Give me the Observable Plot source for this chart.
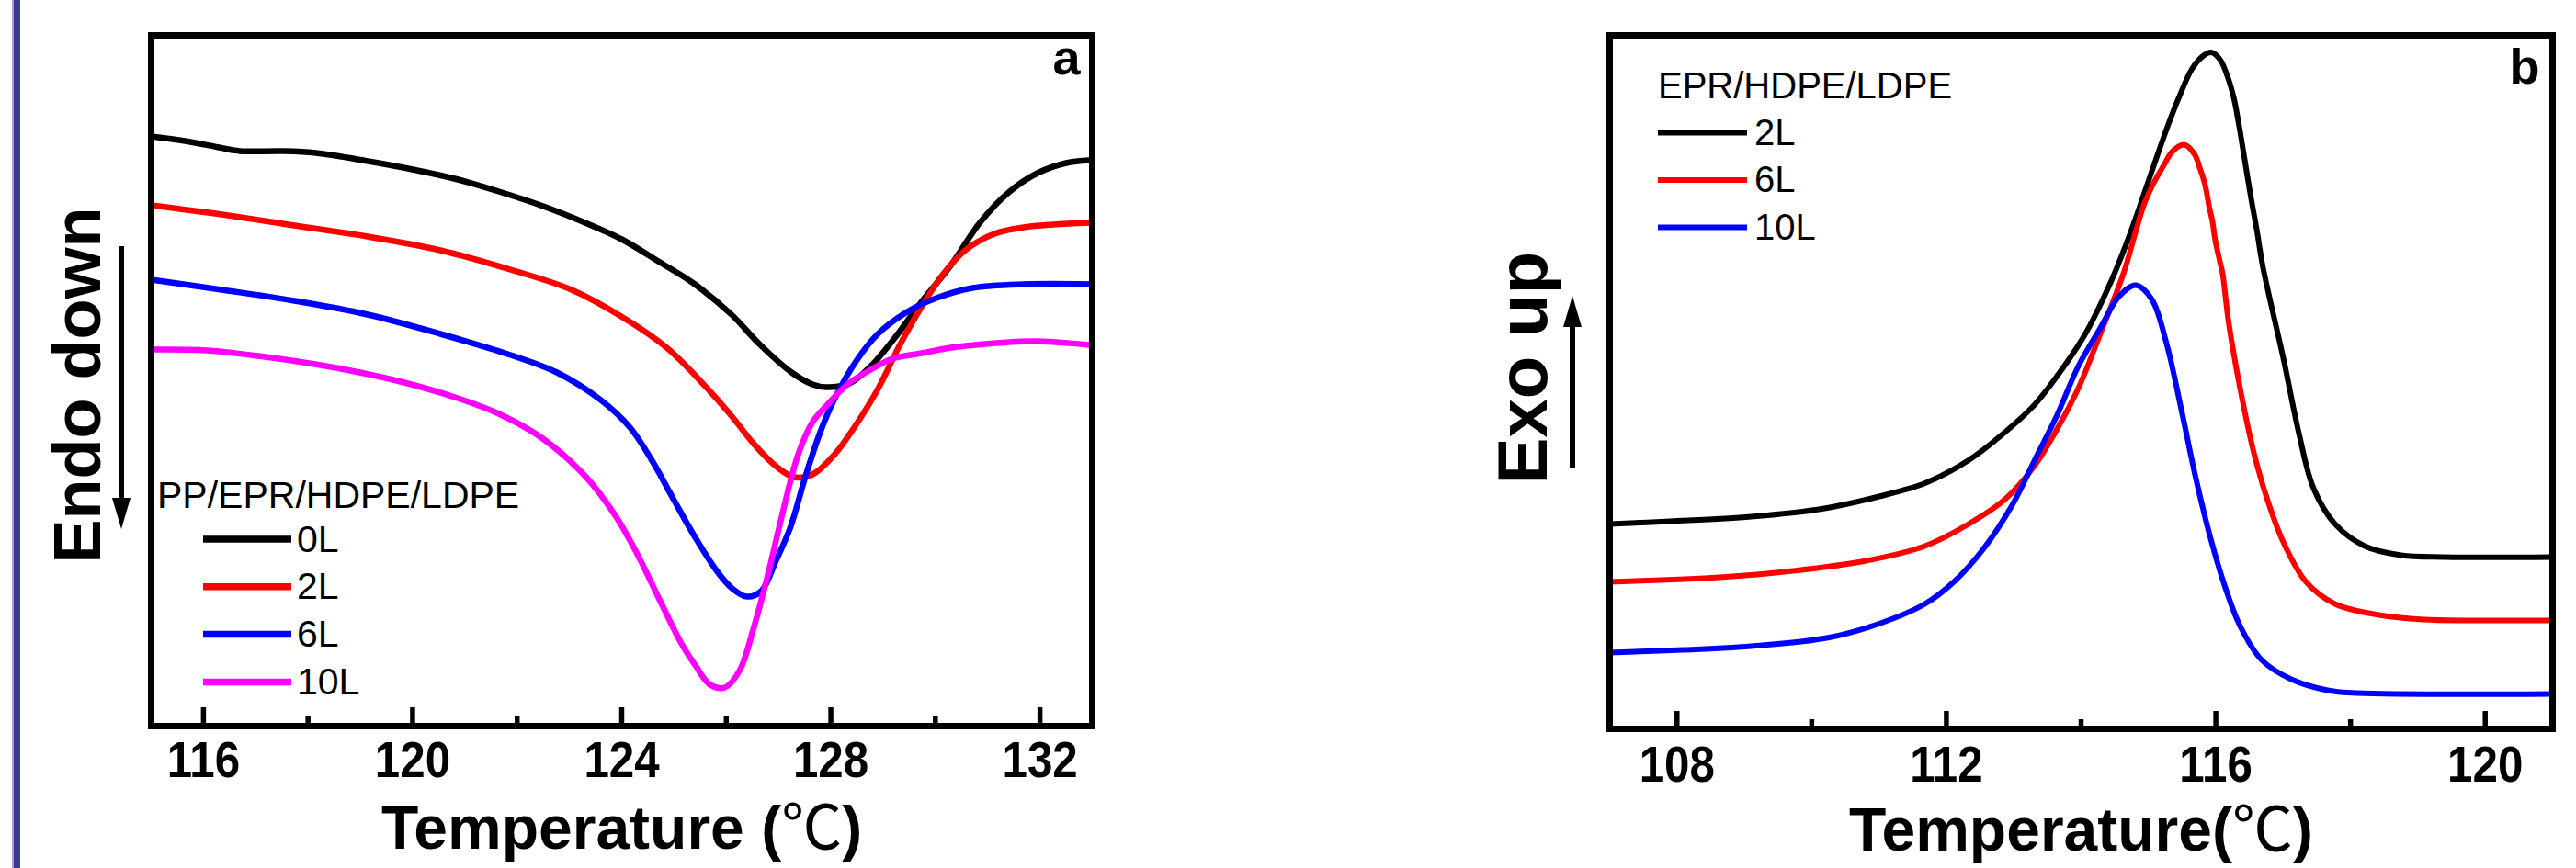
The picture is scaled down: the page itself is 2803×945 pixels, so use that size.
<!DOCTYPE html>
<html><head><meta charset="utf-8">
<script src="https://cdn.jsdelivr.net/npm/d3@7"></script>
<script src="https://cdn.jsdelivr.net/npm/@observablehq/plot@0.6"></script>
<style>
html,body{margin:0;padding:0;background:#fff;}
#page{position:relative;width:2803px;height:945px;overflow:hidden;background:#fff;}
#bar{position:absolute;left:13px;top:0;width:7px;height:945px;background:#3a3a94;border-left:2px solid #a3a3d2;z-index:2;}
#pa{position:absolute;left:0;top:0;}
#pb{position:absolute;left:1540px;top:0;}
</style></head><body>
<div id="page"><div id="bar"></div><div id="pa"></div><div id="pb"></div></div>
<script>
const FONT = "'Liberation Sans', Arial, Helvetica, sans-serif";

// ---------- Panel a : melting (Endo down) ----------
const namesA = ["0L", "2L", "6L", "10L"];
const colorsA = ["#000000", "#ff0000", "#0000ff", "#ff00ff"];
const legendTitleA = "PP/EPR/HDPE/LDPE";
const ticksA = [116, 120, 124, 128, 132];
const minorTicksA = [118, 122, 126, 130];
const xLabelA = "Temperature (℃)";
const yLabelA = "Endo down";
const tagA = "a";

const a0L = [[115.0,64.2],[115.65,63.7],[116.3,63.0],[116.7,62.6],[117.5,62.6],[118.15,62.4],[119.15,61.5],[120.0,60.6],[120.8,59.6],[121.65,58.2],[122.5,56.6],[123.3,54.8],[124.0,53.0],[124.7,50.6],[125.4,48.1],[126.1,44.8],[126.65,41.5],[127.25,38.5],[127.65,37.2],[127.9,36.9],[128.35,37.3],[128.75,39.1],[129.2,42.1],[129.75,46.3],[130.3,50.2],[130.85,54.8],[131.4,58.1],[131.95,60.2],[132.5,61.3],[132.95,61.6]];
const a2L = [[115.0,56.7],[116.35,55.7],[117.74,54.5],[119.14,53.3],[120.53,51.8],[121.93,49.6],[123.04,47.5],[124.02,44.5],[124.86,41.2],[125.55,37.3],[126.11,33.7],[126.53,30.7],[126.95,28.3],[127.3,27.1],[127.65,27.4],[128.06,29.5],[128.48,32.8],[128.9,36.7],[129.32,41.5],[129.74,45.7],[130.16,49.3],[130.57,51.8],[131.13,53.6],[131.69,54.3],[132.25,54.6],[132.95,54.8]];
const a6L = [[115.0,48.6],[116.35,47.5],[117.74,46.3],[119.14,44.8],[120.53,42.7],[121.93,40.3],[122.76,38.5],[123.6,35.5],[124.16,32.5],[124.58,28.9],[124.99,24.7],[125.41,20.5],[125.83,16.8],[126.11,15.0],[126.39,14.1],[126.67,14.7],[126.95,18.0],[127.23,21.7],[127.51,27.1],[127.79,31.9],[128.06,35.5],[128.48,39.7],[128.9,42.7],[129.46,45.1],[130.02,46.6],[130.71,47.7],[131.69,48.1],[132.95,48.1]];
const a10L = [[115.0,41.0],[116.07,40.9],[117.05,40.3],[118.44,39.1],[119.7,37.6],[120.81,35.8],[121.65,34.0],[122.49,31.3],[123.32,27.1],[123.88,22.9],[124.3,18.7],[124.72,13.8],[125.14,9.0],[125.41,6.6],[125.69,4.5],[125.97,4.2],[126.25,6.0],[126.53,10.8],[126.81,16.8],[127.09,23.5],[127.37,29.5],[127.65,33.1],[127.92,34.9],[128.34,37.3],[128.76,38.8],[129.18,40.0],[129.74,40.6],[130.3,41.2],[131.41,41.8],[131.97,41.9],[132.95,41.5]];

// ---------- Panel b : crystallization (Exo up) ----------
const namesB = ["2L", "6L", "10L"];
const colorsB = ["#000000", "#ff0000", "#0000ff"];
const legendTitleB = "EPR/HDPE/LDPE";
const ticksB = [108, 112, 116, 120];
const minorTicksB = [110, 114, 118];
const xLabelB = "Temperature(℃)";
const yLabelB = "Exo up";
const tagB = "b";

const b2L = [[107.0,22.3],[107.9,22.6],[109.1,23.1],[110.15,23.95],[111.0,25.3],[111.7,26.8],[112.33,29.25],[112.87,32.3],[113.31,35.3],[113.75,39.5],[114.07,43.1],[114.45,48.8],[114.66,52.6],[114.81,55.6],[114.97,59.0],[115.13,62.4],[115.29,65.7],[115.45,68.7],[115.65,71.9],[115.81,73.25],[115.93,73.65],[116.06,72.9],[116.18,70.9],[116.27,68.6],[116.34,65.9],[116.43,61.9],[116.52,57.9],[116.61,54.25],[116.7,50.25],[117.01,40.1],[117.23,32.3],[117.45,26.2],[117.77,22.3],[118.21,19.9],[118.75,18.9],[119.4,18.7],[121.0,18.7]];
const b6L = [[107.0,16.0],[108.63,16.5],[109.72,17.2],[110.81,18.3],[111.68,19.9],[112.33,22.3],[112.87,25.0],[113.31,28.65],[113.64,32.6],[113.96,37.1],[114.29,43.1],[114.63,49.6],[114.79,53.6],[114.93,57.0],[115.09,59.6],[115.22,61.25],[115.36,62.9],[115.53,63.6],[115.68,62.6],[115.77,60.9],[115.84,59.25],[115.9,56.9],[115.95,55.25],[115.99,53.25],[116.06,50.9],[116.1,49.6],[116.19,44.3],[116.36,37.1],[116.57,29.9],[116.79,24.4],[117.01,20.2],[117.34,16.0],[117.77,13.6],[118.42,12.4],[119.08,11.9],[119.8,11.8],[121.0,11.8]];
const b10L = [[107.0,8.3],[108.09,8.6],[109.18,9.05],[110.26,9.95],[111.02,11.5],[111.68,13.6],[112.11,16.0],[112.55,19.6],[112.98,24.4],[113.31,29.25],[113.64,34.1],[113.96,39.5],[114.29,43.7],[114.56,47.05],[114.81,48.3],[115.05,46.75],[115.27,41.9],[115.49,34.7],[115.7,27.4],[115.92,20.8],[116.14,15.4],[116.36,11.2],[116.68,7.5],[117.12,5.4],[117.66,4.2],[118.1,3.9],[121.0,3.8]];

function panel(cfg) {
  const rows = cfg.series.flatMap((s, i) => s.map(([t, v]) => ({t, v, k: cfg.names[i]})));
  return Plot.plot({
    width: cfg.width, height: 945,
    marginLeft: cfg.mL, marginRight: cfg.mR, marginTop: cfg.mT, marginBottom: cfg.mB,
    style: {fontFamily: FONT, background: "transparent", color: "black", overflow: "visible"},
    x: {domain: cfg.xDomain, label: null},
    y: {domain: cfg.yDomain, axis: null},
    color: {domain: cfg.names, range: cfg.colors},
    marks: [
      Plot.line(rows, {x: "t", y: "v", z: "k", stroke: "k", strokeWidth: cfg.lw, curve: "catmull-rom", strokeLinejoin: "round"}),
      Plot.axisX(cfg.minors, {tickSize: -cfg.minorLen, strokeWidth: 5.5, tickFormat: () => "", label: null}),
      Plot.axisX(cfg.majors, {tickSize: -cfg.majorLen, strokeWidth: 5.5, tickFormat: () => "", label: null}),
      Plot.axisX(cfg.majors, {tickSize: 0, tickPadding: cfg.tickPad, fontSize: 56, fontWeight: "bold", label: null, tickFormat: d => String(d)}),
      Plot.frame({stroke: "black", strokeWidth: 7}),
      Plot.text([cfg.xLabel], {text: d => d, frameAnchor: "bottom", textAnchor: "middle", lineAnchor: "top", dy: cfg.xLabelDy, fontSize: 66, fontWeight: "bold"}),
      Plot.text([cfg.yLabel], {text: d => d, frameAnchor: "left", textAnchor: "middle", rotate: -90, lineAnchor: "middle", dx: cfg.yLabelDx, dy: cfg.yLabelDy, fontSize: cfg.yLabelSize, fontWeight: "bold", ariaLabel: "ylabel"}),
      Plot.text([cfg.tag], {text: d => d, frameAnchor: "top-right", textAnchor: "end", lineAnchor: "top", dx: cfg.tagDx, dy: cfg.tagDy, fontSize: 54, fontWeight: "bold"})
    ]
  });
}

// horizontally condense a text element around its own anchor point
function squeeze(el, s) {
  const x = parseFloat(el.getAttribute("x")) || 0;
  const t = el.getAttribute("transform") || "";
  el.setAttribute("transform", `${t} translate(${x},0) scale(${s},1) translate(${-x},0)`);
}

function post(chart, cfg) {
  const ns = "http://www.w3.org/2000/svg";
  const svg = d3.select(chart);
  // condensed tick labels
  svg.selectAll("text").each(function() {
    if (/^\d+$/.test(this.textContent.trim())) squeeze(this, 0.88);
  });
  // condensed y label
  svg.selectAll('g[aria-label="ylabel"] text').each(function() {
    const L = this.getComputedTextLength();
    if (L > 0) squeeze(this, cfg.yLabelLen / L);
  });
  // degree Celsius glyph in a CJK font, light weight
  svg.selectAll("text, tspan").each(function() {
    if (this.children.length === 0 && this.textContent.includes("℃")) {
      const parts = this.textContent.split("℃");
      this.textContent = "";
      parts.forEach((p, i) => {
        if (i > 0) {
          const ts = document.createElementNS(ns, "tspan");
          ts.setAttribute("font-family", "'Noto Sans CJK SC', 'DejaVu Sans', sans-serif");
          ts.setAttribute("font-weight", "normal");
          ts.textContent = "℃";
          this.appendChild(ts);
        }
        if (p) this.appendChild(document.createTextNode(p));
      });
    }
  });
  // arrow next to y label
  const x = chart.scale("x");
  const ax = x.range[0] + cfg.arrow.dx;
  const [yTail, yTip] = cfg.arrow.y;
  const dir = Math.sign(yTip - yTail);
  const hl = 34, hw = 10;
  svg.append("line").attr("x1", ax).attr("x2", ax).attr("y1", yTail).attr("y2", yTip - dir * hl)
    .attr("stroke", "black").attr("stroke-width", 6);
  svg.append("path").attr("d", `M${ax - hw},${yTip - dir * hl}L${ax + hw},${yTip - dir * hl}L${ax},${yTip}Z`).attr("fill", "black");
  // legend
  const L = cfg.legend;
  const g = svg.append("g").attr("font-family", FONT).attr("fill", "black").attr("text-anchor", "start");
  g.append("text").attr("x", L.x).attr("y", L.titleY).attr("font-size", L.fs).text(cfg.legendTitle);
  cfg.names.forEach((n, i) => {
    const y = L.y0 + i * L.step;
    g.append("line").attr("x1", L.lx1).attr("x2", L.lx2).attr("y1", y).attr("y2", y)
      .attr("stroke", cfg.colors[i]).attr("stroke-width", L.lw);
    g.append("text").attr("x", L.tx).attr("y", y + L.base).attr("font-size", L.fs).text(n);
  });
}

const cfgA = {
  series: [a0L, a2L, a6L, a10L], names: namesA, colors: colorsA, legendTitle: legendTitleA,
  width: 1240, mL: 164, mR: 52, mT: 38, mB: 155,
  xDomain: [115, 133], yDomain: [0, 75.2], lw: 6.5,
  majors: ticksA, minors: minorTicksA, majorLen: 20, minorLen: 11, tickPad: 16,
  xLabel: xLabelA, xLabelDy: 87,
  yLabel: yLabelA, yLabelDx: -79, yLabelDy: 5, yLabelSize: 72, yLabelLen: 350,
  tag: tagA, tagDx: -13, tagDy: 4,
  arrow: {dx: -32, y: [268, 576]},
  legend: {x: 171, titleY: 553, fs: 41, lx1: 221, lx2: 317, y0: 587, step: 51.8, lw: 7.5, tx: 323, base: 13.5}
};
const cfgB = {
  series: [b2L, b6L, b10L], names: namesB, colors: colorsB, legendTitle: legendTitleB,
  width: 1263, mL: 211, mR: 26, mT: 38, mB: 152,
  xDomain: [107, 121], yDomain: [0, 75.5], lw: 6,
  majors: ticksB, minors: minorTicksB, majorLen: 19, minorLen: 10, tickPad: 17.5,
  xLabel: xLabelB, xLabelDy: 86,
  yLabel: yLabelB, yLabelDx: -93, yLabelDy: -15.5, yLabelSize: 76, yLabelLen: 214,
  tag: tagB, tagDx: -14, tagDy: 14,
  arrow: {dx: -40, y: [509, 322]},
  legend: {x: 264, titleY: 107, fs: 40, lx1: 264, lx2: 361, y0: 144.5, step: 51.5, lw: 6, tx: 369, base: 13}
};

const chartA = panel(cfgA);
document.getElementById("pa").appendChild(chartA);
post(chartA, cfgA);
const chartB = panel(cfgB);
document.getElementById("pb").appendChild(chartB);
post(chartB, cfgB);
</script>
</body></html>
